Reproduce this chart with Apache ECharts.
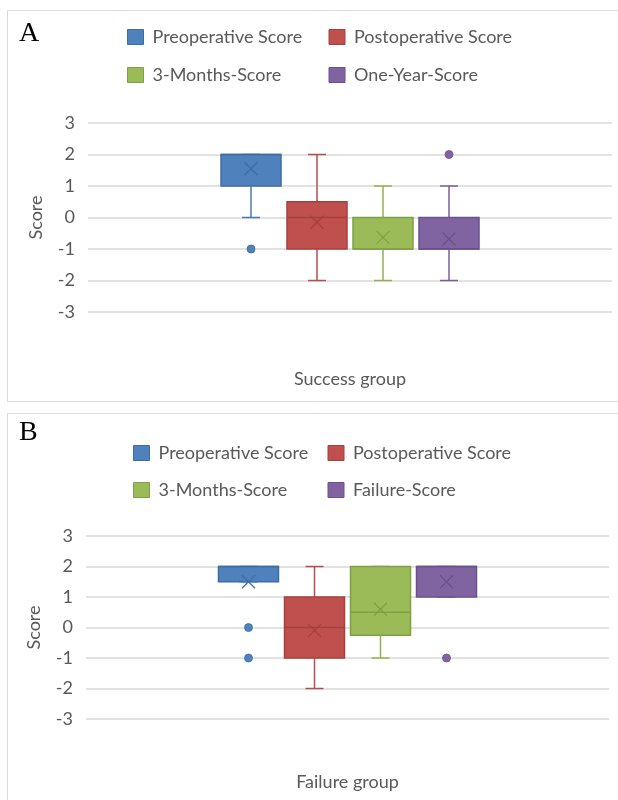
<!DOCTYPE html>
<html><head><meta charset="utf-8">
<script src="https://cdn.jsdelivr.net/npm/echarts@6/dist/echarts.min.js"></script>
<style>html,body{margin:0;padding:0;background:#fff}#c{width:618px;height:800px}</style>
</head><body><div id="c"></div>
<script>
// ---------- data ----------
const yMinTick = -3, yMaxTick = 3, yStep = 1;
const seriesNamesA = ['Preoperative Score', 'Postoperative Score', '3-Months-Score', 'One-Year-Score'];
const seriesNamesB = ['Preoperative Score', 'Postoperative Score', '3-Months-Score', 'Failure-Score'];
const groupA = ['Success group'];
const groupB = ['Failure group'];
// [min, Q1, median, Q3, max]
const boxA = [[0, 1, 2, 2, 2], [-2, -1, 0, 0.5, 2], [-2, -1, -1, 0, 1], [-2, -1, -1, 0, 1]];
const meanA = [1.55, -0.15, -0.63, -0.68];
const outliersA = [[-1], [], [], [2]];
const boxB = [[1.5, 1.5, 2, 2, 2], [-2, -1, 0, 1, 2], [-1, -0.25, 0.5, 2, 2], [1, 1, 2, 2, 2]];
const meanB = [1.5, -0.1, 0.6, 1.5];
const outliersB = [[0, -1], [], [], [-1]];

// ---------- style ----------
const fills = ['#4F81BD', '#C0504D', '#9BBB59', '#8064A2'];
const borders = ['#3E6DA6', '#A5403D', '#80A044', '#6A518A'];
const whiskerCols = ['#4A7AB5', '#B84C49', '#91B252', '#7A5F9C'];
const SLOT = 66, BOXW = 60, CAPW = 18, XS = 6.5, DOT = 4;
const FONT = 'Lato';
const GRAY = '#595959';

function boxRender(k) {
  return function (params, api) {
    const cx = api.coord([api.value(0), 0])[0] + (k - 1.5) * SLOT;
    const Y = i => api.coord([api.value(0), api.value(i)])[1];
    const yLo = Y(1), yQ1 = Y(2), yMed = Y(3), yQ3 = Y(4), yHi = Y(5), yMean = Y(6);
    const wl = { stroke: whiskerCols[k], lineWidth: 1.5 };
    const dl = { stroke: borders[k], lineWidth: 1.3 };
    const ch = [];
    ch.push({ type: 'line', shape: { x1: cx, y1: yQ1, x2: cx, y2: yLo }, style: wl });
    ch.push({ type: 'line', shape: { x1: cx, y1: yQ3, x2: cx, y2: yHi }, style: wl });
    ch.push({ type: 'line', shape: { x1: cx - CAPW / 2, y1: yLo, x2: cx + CAPW / 2, y2: yLo }, style: wl });
    ch.push({ type: 'line', shape: { x1: cx - CAPW / 2, y1: yHi, x2: cx + CAPW / 2, y2: yHi }, style: wl });
    ch.push({ type: 'rect', shape: { x: cx - BOXW / 2, y: yQ3, width: BOXW, height: yQ1 - yQ3 },
      style: { fill: fills[k], stroke: borders[k], lineWidth: 1.5 } });
    ch.push({ type: 'line', shape: { x1: cx - BOXW / 2, y1: yMed, x2: cx + BOXW / 2, y2: yMed }, style: dl });
    ch.push({ type: 'line', shape: { x1: cx - XS, y1: yMean - XS, x2: cx + XS, y2: yMean + XS }, style: dl });
    ch.push({ type: 'line', shape: { x1: cx - XS, y1: yMean + XS, x2: cx + XS, y2: yMean - XS }, style: dl });
    return { type: 'group', children: ch };
  };
}
function dotRender(k) {
  return function (params, api) {
    const p = api.coord([api.value(0), api.value(1)]);
    return { type: 'circle', shape: { cx: p[0] + (k - 1.5) * SLOT, cy: p[1], r: DOT },
      style: { fill: fills[k], stroke: borders[k], lineWidth: 0.8 } };
  };
}

function panelSeries(names, group, boxes, means, outs, idx) {
  const s = [];
  names.forEach((n, k) => {
    s.push({ type: 'custom', name: n, xAxisIndex: idx, yAxisIndex: idx, renderItem: boxRender(k),
      itemStyle: { color: fills[k] }, clip: false,
      data: [[group[0]].concat(boxes[k], [means[k]])] });
    if (outs[k].length) {
      s.push({ type: 'custom', name: n, xAxisIndex: idx, yAxisIndex: idx, renderItem: dotRender(k),
        itemStyle: { color: fills[k] }, clip: false,
        data: outs[k].map(v => [group[0], v]) });
    }
  });
  return s;
}
function legendRow(names, ks, left, top, textW) {
  return {
    left: left, top: top, orient: 'horizontal', icon: 'rect', itemWidth: 16, itemHeight: 15,
    itemGap: 10, selectedMode: false,
    textStyle: { fontFamily: FONT, fontSize: 18, color: GRAY, width: textW, lineHeight: 18, padding: [0, 0, 0, 4] },
    data: ks.map(k => ({ name: names[k], itemStyle: { color: fills[k], borderColor: borders[k], borderWidth: 1 } }))
  };
}
function yAx(idx) {
  return { type: 'value', gridIndex: idx, min: yMinTick, max: yMaxTick, interval: yStep,
    name: 'Score', nameLocation: 'middle', nameGap: 43,
    nameTextStyle: { fontFamily: FONT, fontSize: 18, color: GRAY },
    axisLine: { show: false }, axisTick: { show: false },
    axisLabel: { fontFamily: FONT, fontSize: 18, color: GRAY, margin: 13 },
    splitLine: { lineStyle: { color: '#D9D9D9', width: 1.5 } } };
}
function xAx(idx, cats, margin) {
  return { type: 'category', gridIndex: idx, data: cats,
    axisLine: { show: false }, axisTick: { show: false },
    axisLabel: { fontFamily: FONT, fontSize: 18, color: GRAY, margin: margin } };
}

const chart = echarts.init(document.getElementById('c'), null, { renderer: 'canvas' });
chart.setOption({
  backgroundColor: '#fff',
  animation: false,
  graphic: [
    { type: 'rect', shape: { x: 7.5, y: 10.5, width: 700, height: 391 }, style: { fill: 'none', stroke: '#D9D9D9', lineWidth: 1 } },
    { type: 'rect', shape: { x: 7.5, y: 413.5, width: 700, height: 500 }, style: { fill: 'none', stroke: '#D9D9D9', lineWidth: 1 } },
    { type: 'text', left: 19, top: 20, style: { text: 'A', font: '28px "Liberation Serif"', fill: '#000' } },
    { type: 'text', left: 19, top: 419, style: { text: 'B', font: '28px "Liberation Serif"', fill: '#000' } }
  ],
  legend: [
    legendRow(seriesNamesA, [0, 1], 122, 23, 166),
    legendRow(seriesNamesA, [2, 3], 122, 61, 166),
    legendRow(seriesNamesB, [0, 1], 128, 439, 159),
    legendRow(seriesNamesB, [2, 3], 128, 476, 159)
  ],
  grid: [
    { left: 88, right: 6, top: 123, height: 189 },
    { left: 86, right: 9, top: 536, height: 183 }
  ],
  xAxis: [xAx(0, groupA, 58), xAx(1, groupB, 54)],
  yAxis: [yAx(0), yAx(1)],
  series: [].concat(
    panelSeries(seriesNamesA, groupA, boxA, meanA, outliersA, 0),
    panelSeries(seriesNamesB, groupB, boxB, meanB, outliersB, 1)
  )
});
</script></body></html>
